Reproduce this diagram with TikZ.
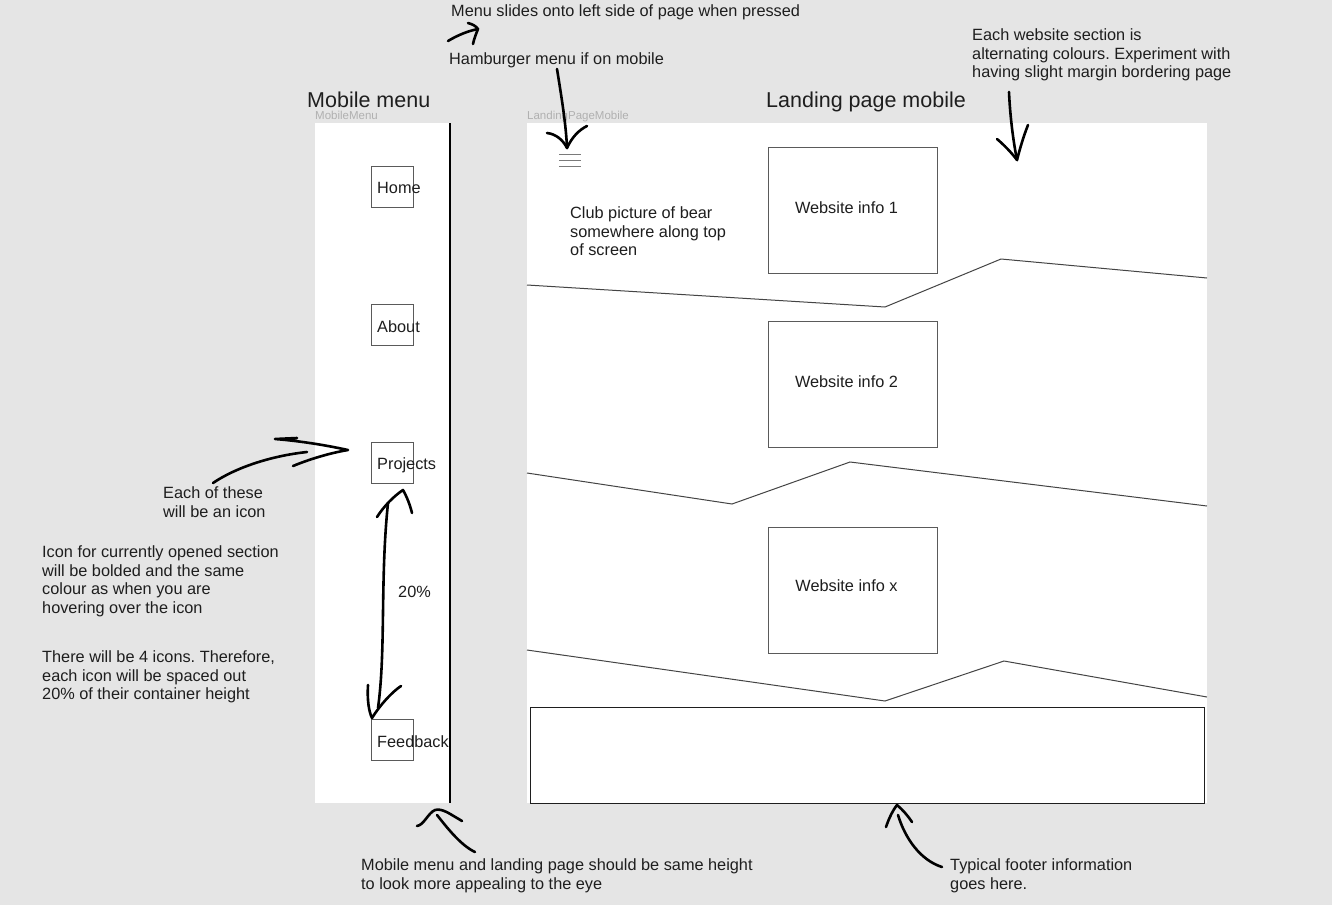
\documentclass[tikz,border=0pt]{standalone}
\usepackage{fontspec}
\setmainfont{Liberation Sans}
\frenchspacing
\definecolor{bgc}{HTML}{E5E5E5}
\definecolor{txt}{HTML}{1E1E1E}
\definecolor{boxc}{HTML}{5A5A5A}
\definecolor{zig}{HTML}{444444}
\definecolor{lbl}{HTML}{B0B0B0}
\definecolor{ham}{HTML}{7A7A7A}
\begin{document}
\begin{tikzpicture}[x=1pt,y=-1pt,
  note/.style={font=\fontsize{16.3}{18.7}\selectfont, text=txt, inner sep=0, align=left, anchor=north west},
  title/.style={font=\fontsize{21.5}{24}\selectfont, text=txt, inner sep=0, anchor=north west, text depth=0pt},
  framelabel/.style={font=\fontsize{11.5}{13}\selectfont, text=lbl, inner sep=0, anchor=north west},
  iconbox/.style={draw=boxc, line width=0.9pt, minimum width=42pt, minimum height=41pt, inner sep=0},
  icontext/.style={font=\fontsize{16.3}{18.7}\selectfont, text=txt, inner sep=0, anchor=west},
  infobox/.style={draw=boxc, line width=1pt, minimum width=169pt, minimum height=126pt, inner sep=0},
  infotext/.style={font=\fontsize{16.3}{18.7}\selectfont, text=txt, inner sep=0},
  zigline/.style={draw=zig, line width=1pt},
  hand/.style={draw=black, line width=2.6pt, line cap=round, line join=round}
]
\useasboundingbox (0,0) rectangle (1332,905);
\fill[bgc] (0,0) rectangle (1332,905);

% frames
\fill[white] (315,123) rectangle (450,803);
\draw[black, line width=1.6pt] (450,123) -- (450,803);
\fill[white] (527,123) rectangle (1207,803);

% titles
\node[title] (mmtitle) at (307,92) {Mobile menu};
\node[title] (lptitle) at (766,92) {Landing page mobile};
\node[framelabel] (mmlabel) at (315,110.5) {MobileMenu};
\node[framelabel] (lplabel) at (527,110.5) {LandingPageMobile};

% menu icons
\node[iconbox] (home) at (392,186.5) {};
\node[iconbox] (about) at (392,324.5) {};
\node[iconbox] (projects) at (392,463) {};
\node[iconbox] (feedback) at (392,739.5) {};
\node[icontext] (hometxt) at (377,188) {Home};
\node[icontext] (abouttxt) at (377,326.5) {About};
\node[icontext] (projtxt) at (377,465) {Projects};
\node[icontext] (feedtxt) at (377,742) {Feedback};

% hamburger
\draw[ham, line width=1pt] (559,154) -- (581,154) (559,160) -- (581,160) (559,166) -- (581,166);

% website info boxes
\node[infobox] (info1) at (852.5,210) {};
\node[infobox] (info2) at (852.5,384.5) {};
\node[infobox] (infox) at (852.5,590.5) {};
\node[infotext] (info1txt) at (846.5,208) {Website info 1};
\node[infotext] (info2txt) at (846.5,382) {Website info 2};
\node[infotext] (infoxtxt) at (846.5,586) {Website info x};

% zigzag section borders
\draw[zigline] (527,285) -- (885,307) -- (1001,259) -- (1207,278);
\draw[zigline] (527,473) -- (732,504) -- (850,462) -- (1207,506);
\draw[zigline] (527,650) -- (885,701) -- (1004,661) -- (1207,697);

% footer
\node[draw=txt, line width=1pt, minimum width=674pt, minimum height=96pt, inner sep=0] (footer) at (867,755) {};

% notes
\node[note] (n1) at (451,4.5) {Menu slides onto left side of page when pressed};
\node[note] (n2) at (449,52.5) {Hamburger menu if on mobile};
\node[note] (n3) at (972,28.5) {Each website section is\\alternating colours. Experiment with\\having slight margin bordering page};
\node[note] (n4) at (163,486.5) {Each of these\\will be an icon};
\node[note] (n5) at (42,545.5) {Icon for currently opened section\\will be bolded and the same\\colour as when you are\\hovering over the icon};
\node[note] (n6) at (42,650.5) {There will be 4 icons. Therefore,\\each icon will be spaced out\\20\% of their container height};
\node[note] (n7) at (361,858.5) {Mobile menu and landing page should be same height\\to look more appealing to the eye};
\node[note] (n8) at (950,858.5) {Typical footer information\\goes here.};
\node[note] (n9) at (570,206.5) {Club picture of bear\\somewhere along top\\of screen};
\node[note] (pct) at (398,586) {20\%};

% hand-drawn arrows
% menu slides arrow
\draw[hand] (448,41) .. controls (458,35) and (468,31) .. (478,29);
\draw[hand] (468,23) .. controls (472,24) and (476,26) .. (478,29) .. controls (476,34) and (474,39) .. (473,44);
% hamburger arrow
\draw[hand] (557,69) .. controls (562,100) and (566,125) .. (567,148);
\draw[hand] (547,133) .. controls (556,134) and (563,140) .. (567,148) .. controls (572,137) and (579,130) .. (587,126);
% website section arrow
\draw[hand] (1009,92) .. controls (1010,115) and (1013,140) .. (1017,160);
\draw[hand] (997,139) .. controls (1004,145) and (1011,152) .. (1017,160) .. controls (1020,148) and (1024,135) .. (1028,125);
% each of these arrow
\draw[hand] (213,483) .. controls (235,468) and (270,456) .. (307,452);
\draw[hand] (293,466) .. controls (310,459) and (330,453) .. (348,450) .. controls (325,445) and (300,441) .. (275,439) -- (297,438);
% 20% double arrow
\draw[hand] (388,503) .. controls (380,580) and (386,650) .. (378,708);
\draw[hand] (377,517) .. controls (384,506) and (394,496) .. (403,490) .. controls (407,497) and (410,505) .. (412,513);
\draw[hand] (368,685) .. controls (367,700) and (369,712) .. (372,718) .. controls (380,705) and (392,692) .. (401,686);
% same height arrow
\draw[hand] (417,826) .. controls (424,825) and (428,813) .. (435,810) .. controls (442,808) and (450,814) .. (457,818) -- (462,821);
\draw[hand] (437,815) .. controls (445,825) and (460,845) .. (475,852);
% footer arrow
\draw[hand] (886,827) .. controls (889,818) and (893,810) .. (897,805) .. controls (903,810) and (908,816) .. (912,822);
\draw[hand] (898,815) .. controls (905,838) and (920,860) .. (942,867);
\end{tikzpicture}
\end{document}
